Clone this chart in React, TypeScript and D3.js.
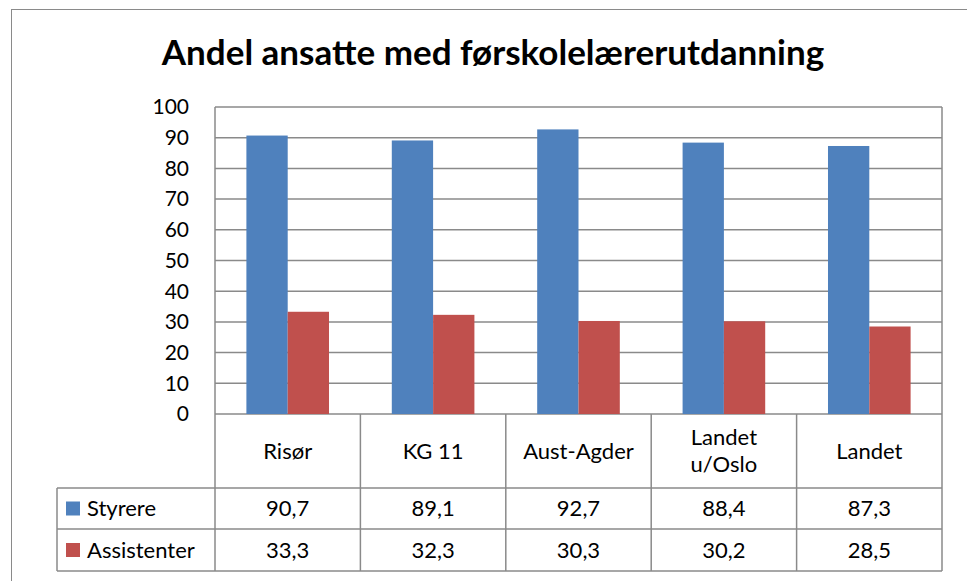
import React from 'react';
import * as d3 from 'd3';

const categories = ['Risør', 'KG 11', 'Aust-Agder', 'Landet\nu/Oslo', 'Landet'];
const seriesNames = ['Styrere', 'Assistenter'];
const styrere = [90.7, 89.1, 92.7, 88.4, 87.3];
const assistenter = [33.3, 32.3, 30.3, 30.2, 28.5];
const yTicks = [0, 10, 20, 30, 40, 50, 60, 70, 80, 90, 100];

const colors = ['#4F81BD', '#C0504D'];
const gridColor = '#8a8a8a';
const font = 'Lato, "Open Sans", sans-serif';

const W = 967;
const H = 581;
const plot = { left: 215, right: 942, top: 107, bottom: 414 };
const rows = { header: 488, r1: 529, r2: 571 };
const legendLeft = 57;

const fmt = d3.formatLocale({ decimal: ',', thousands: ' ', grouping: [3], currency: ['', ''] }).format('.1f');

export default function App() {
  const series = [styrere, assistenter];

  const x = d3.scaleBand<string>()
    .domain(categories)
    .range([plot.left, plot.right])
    .paddingInner(0)
    .paddingOuter(0);

  const inner = d3.scaleBand<string>()
    .domain(seriesNames)
    .range([0, x.bandwidth()])
    .paddingOuter(0.76)
    .paddingInner(0);

  const y = d3.scaleLinear().domain([0, 100]).range([plot.bottom, plot.top]);

  const colEdges = [...categories.map(c => x(c) as number), plot.right];

  return (
    <svg width={W} height={H} style={{ position: 'absolute', left: 0, top: 0, background: '#fff' }}>
      {/* outer frame */}
      <line x1={11} x2={W} y1={9.5} y2={9.5} stroke={gridColor} strokeWidth={1} />
      <line x1={11.5} x2={11.5} y1={9} y2={H} stroke={gridColor} strokeWidth={1} />

      <text x={493} y={65} textAnchor="middle" fontFamily={font} fontWeight={700} fontSize={35} fill="#000">
        Andel ansatte med førskolelærerutdanning
      </text>

      {/* gridlines */}
      {yTicks.map(t => (
        <line key={t} x1={plot.left} x2={plot.right} y1={y(t)} y2={y(t)} stroke={gridColor} strokeWidth={1.5} />
      ))}
      {yTicks.map(t => (
        <text key={'l' + t} x={189} y={y(t)} dy="0.35em" textAnchor="end" fontFamily={font} fontSize={21} fill="#000">
          {t}
        </text>
      ))}

      {/* bars */}
      {series.map((vals, si) =>
        vals.map((v, i) => (
          <rect
            key={si + '-' + i}
            x={(x(categories[i]) as number) + (inner(seriesNames[si]) as number)}
            y={y(v)}
            width={inner.bandwidth()}
            height={y(0) - y(v)}
            fill={colors[si]}
          />
        ))
      )}

      {/* plot frame */}
      <line x1={plot.left} x2={plot.left} y1={plot.top} y2={rows.r2} stroke={gridColor} strokeWidth={1.5} />
      <line x1={plot.right} x2={plot.right} y1={plot.top} y2={rows.r2} stroke={gridColor} strokeWidth={1.5} />

      {/* data table */}
      {colEdges.slice(1, -1).map((cx, i) => (
        <line key={'v' + i} x1={cx} x2={cx} y1={plot.bottom} y2={rows.r2} stroke={gridColor} strokeWidth={1.5} />
      ))}
      <line x1={legendLeft} x2={legendLeft} y1={rows.header} y2={rows.r2} stroke={gridColor} strokeWidth={1.5} />
      {[rows.header, rows.r1, rows.r2].map(ry => (
        <line key={'h' + ry} x1={legendLeft} x2={plot.right} y1={ry} y2={ry} stroke={gridColor} strokeWidth={1.5} />
      ))}

      {categories.map(c => {
        const cx = (x(c) as number) + x.bandwidth() / 2;
        const lines = c.split('\n');
        const mid = (plot.bottom + rows.header) / 2;
        return (
          <text key={c} x={cx} textAnchor="middle" fontFamily={font} fontSize={22} fill="#000">
            {lines.map((ln, li) => (
              <tspan key={li} x={cx} y={mid + (li - (lines.length - 1) / 2) * 27} dy="0.35em">
                {ln}
              </tspan>
            ))}
          </text>
        );
      })}

      {series.map((vals, si) => {
        const top = si === 0 ? rows.header : rows.r1;
        const bottom = si === 0 ? rows.r1 : rows.r2;
        const cy = (top + bottom) / 2;
        return (
          <g key={'row' + si}>
            <rect x={66} y={cy - 7} width={14} height={14} fill={colors[si]} />
            <text x={87} y={cy} dy="0.35em" fontFamily={font} fontSize={22} fill="#000">
              {seriesNames[si]}
            </text>
            {vals.map((v, i) => (
              <text
                key={i}
                x={(x(categories[i]) as number) + x.bandwidth() / 2}
                y={cy}
                dy="0.35em"
                textAnchor="middle"
                fontFamily={font}
                fontSize={22}
                fill="#000"
              >
                {fmt(v)}
              </text>
            ))}
          </g>
        );
      })}
    </svg>
  );
}
